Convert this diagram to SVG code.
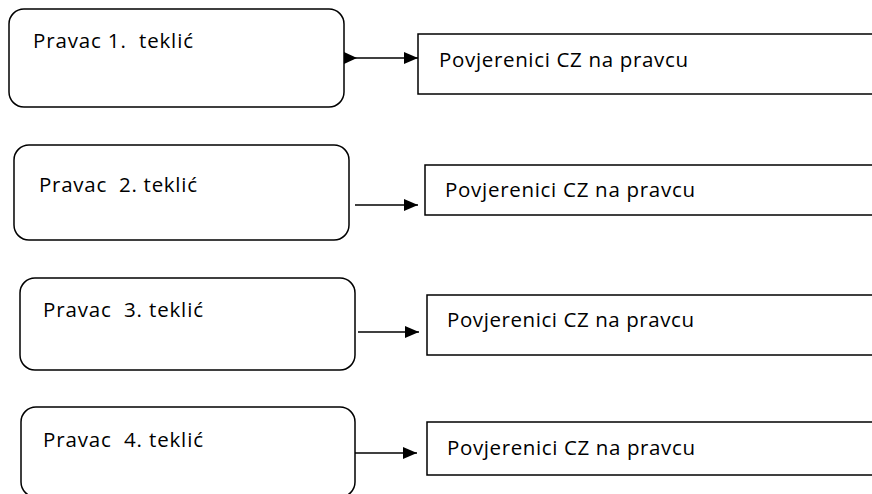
<svg xmlns="http://www.w3.org/2000/svg" width="872" height="494" viewBox="0 0 872 494">
<style>
.rbox{fill:#fff;stroke:#000;stroke-width:1.5}
.box{fill:#fff;stroke:#000;stroke-width:1.5}
.t{font-family:"Open Sans","Liberation Sans",sans-serif;font-size:20.5px;fill:#000;white-space:pre}
.c{stroke:#000;stroke-width:1.5;fill:none}
</style>
<defs>
<marker id="head" markerUnits="userSpaceOnUse" markerWidth="15" markerHeight="14" refX="14" refY="7" orient="auto">
<path d="M0,1 L14,7 L0,13 Z" fill="#000"/>
</marker>
<marker id="tail" markerUnits="userSpaceOnUse" markerWidth="15" markerHeight="14" refX="0" refY="7" orient="auto">
<path d="M0,1 L13,7 L0,13 Z" fill="#000"/>
</marker>
</defs>
<g id="pravac1"><rect class="rbox" x="9" y="9" width="335" height="98" rx="15"/><text class="t" x="33" y="48" textLength="160" xml:space="preserve">Pravac 1.  teklić</text></g>
<g id="povj1"><rect class="box" x="418" y="34" width="470" height="60"/><text class="t" x="439" y="67" textLength="249">Povjerenici CZ na pravcu</text></g>
<g id="pravac2"><rect class="rbox" x="14" y="145" width="335" height="95" rx="15"/><text class="t" x="39" y="192" textLength="158" xml:space="preserve">Pravac  2. teklić</text></g>
<g id="povj2"><rect class="box" x="425" y="165" width="460" height="50"/><text class="t" x="445" y="197" textLength="250">Povjerenici CZ na pravcu</text></g>
<g id="pravac3"><rect class="rbox" x="20" y="278" width="335" height="92" rx="15"/><text class="t" x="43" y="317" textLength="160" xml:space="preserve">Pravac  3. teklić</text></g>
<g id="povj3"><rect class="box" x="427" y="295" width="460" height="60"/><text class="t" x="447" y="327" textLength="247">Povjerenici CZ na pravcu</text></g>
<g id="pravac4"><rect class="rbox" x="21" y="407" width="334" height="90" rx="15"/><text class="t" x="43" y="447" textLength="160" xml:space="preserve">Pravac  4. teklić</text></g>
<g id="povj4"><rect class="box" x="427" y="422" width="460" height="53"/><text class="t" x="447" y="455" textLength="248">Povjerenici CZ na pravcu</text></g>
<g id="connectors">
<path class="c" d="M344,58 L418,58" marker-start="url(#tail)" marker-end="url(#head)"/>
<path class="c" d="M355,205 L418,205" marker-end="url(#head)"/>
<path class="c" d="M358,332 L419,332" marker-end="url(#head)"/>
<path class="c" d="M355,453 L417,453" marker-end="url(#head)"/>
</g>
</svg>
